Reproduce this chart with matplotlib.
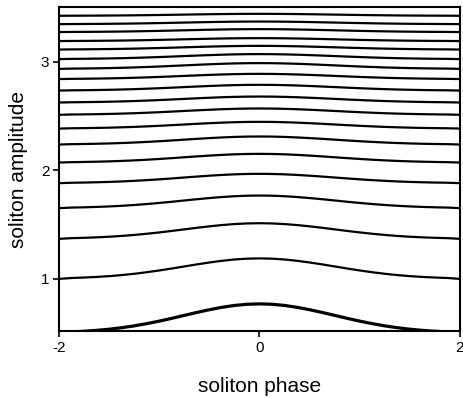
import numpy as np
import matplotlib
matplotlib.use("Agg")
import matplotlib.pyplot as plt

plt.rcParams['font.family'] = ['Liberation Sans', 'DejaVu Sans']

# amplitude of each trajectory at the edges (phase = +-2) and at the centre (phase = 0)
edge_amplitude = [0.50, 1.000, 1.369, 1.652, 1.882, 2.072, 2.238, 2.385, 2.512,
                  2.625, 2.735, 2.841, 2.935, 3.025, 3.113, 3.191, 3.274, 3.347, 3.424]
peak_amplitude = [0.770, 1.189, 1.513, 1.768, 1.968, 2.152, 2.312, 2.447, 2.570,
                  2.680, 2.788, 2.889, 2.988, 3.071, 3.147, 3.218, 3.301, 3.371, 3.442]

# normalised bump profile, for phase 0 .. 2 (symmetric)
half_phase = [0.0, 0.125, 0.25, 0.375, 0.5, 0.625, 0.75, 0.875, 1.0,
              1.125, 1.25, 1.375, 1.5, 1.625, 1.75, 1.875, 2.0]
half_profile = [1.00, 0.986, 0.946, 0.882, 0.80, 0.707, 0.607, 0.506, 0.411,
                0.325, 0.249, 0.186, 0.135, 0.096, 0.066, 0.044, 0.0]

x_ticks = [-2, 0, 2]
y_ticks = [1, 2, 3]

phase = np.concatenate([-np.array(half_phase[::-1]), np.array(half_phase[1:])])
profile = np.concatenate([np.array(half_profile[::-1]), np.array(half_profile[1:])])

fig = plt.figure(figsize=(4.64, 3.98), dpi=100)
ax = fig.add_axes([59/464, 1-331/398, (460-59)/464, (331-7)/398])

for i, (e, p) in enumerate(zip(edge_amplitude, peak_amplitude)):
    amp = e + (p - e) * profile
    lw = 2.3 if i == 0 else 1.6
    ax.plot(phase, amp, color='black', lw=lw, solid_capstyle='butt')

ax.set_xlim(-2, 2)
ax.set_ylim(0.52, 3.505)
ax.set_xticks(x_ticks)
ax.set_xticklabels([str(v) for v in x_ticks])
ax.set_yticks(y_ticks)
ax.set_yticklabels([str(v) for v in y_ticks])
ax.tick_params(direction='out', length=4, width=1.2, labelsize=11, pad=3)
for s in ax.spines.values():
    s.set_linewidth(1.5)

ax.set_xlabel('soliton phase', fontsize=15, labelpad=16)
ax.set_ylabel('soliton amplitude', fontsize=15, labelpad=9)

fig.savefig('out.png', dpi=100)
